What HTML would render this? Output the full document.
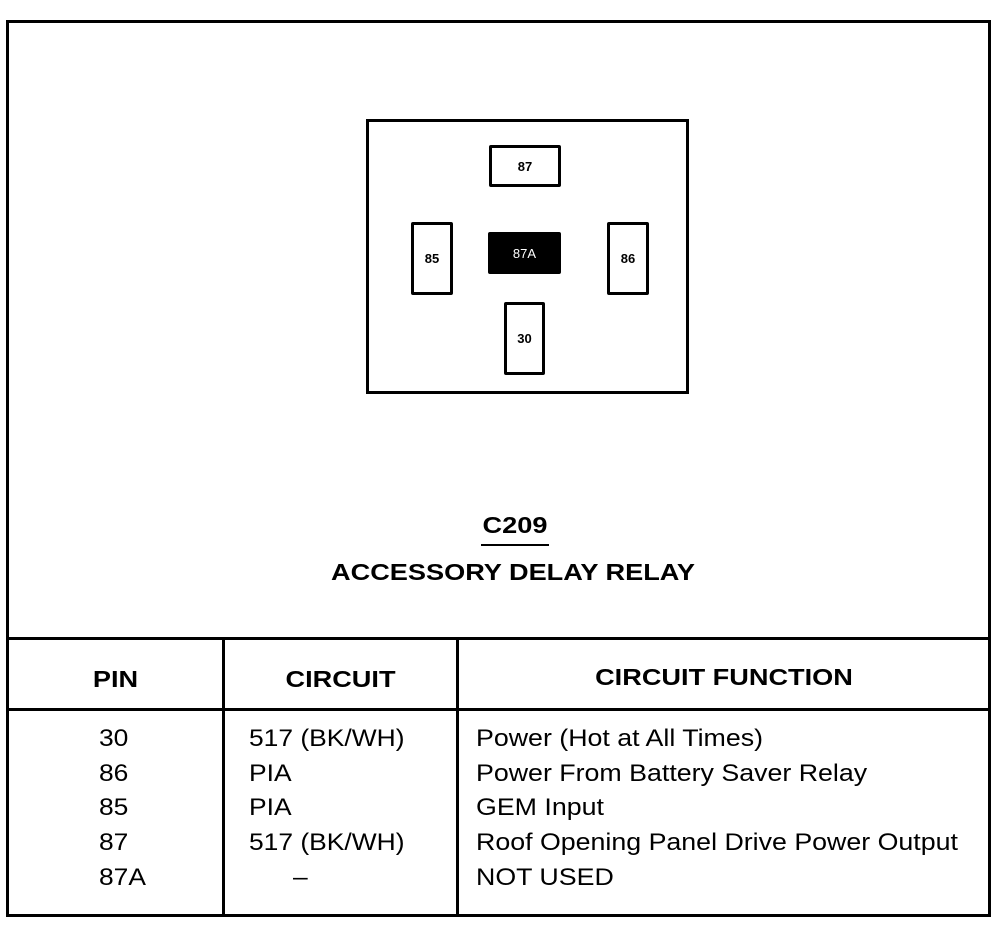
<!DOCTYPE html>
<html><head><meta charset="utf-8"><style>
body{margin:0;width:1000px;height:928px;background:#fff;position:relative;font-family:"Liberation Sans",Arial,sans-serif;color:#000;overflow:hidden}
.a{position:absolute;box-sizing:border-box}
.pin{position:absolute;box-sizing:border-box;border:3px solid #000;background:#fff;display:flex;align-items:center;justify-content:center;font-size:13px;border-radius:2px;font-weight:bold}
.t{position:absolute;font-size:24px;line-height:34.7px;white-space:pre;transform:scaleX(1.1);transform-origin:0 0}
.h{position:absolute;font-size:23px;font-weight:bold;text-align:center;transform:scaleX(1.18)}
</style></head><body>
<div class="a" style="left:6px;top:20px;width:985px;height:897px;border:3px solid #000"></div>
<div class="a" style="left:6px;top:637px;width:985px;height:3px;background:#000"></div>
<div class="a" style="left:6px;top:708px;width:985px;height:3px;background:#000"></div>
<div class="a" style="left:222px;top:637px;width:3px;height:280px;background:#000"></div>
<div class="a" style="left:456px;top:637px;width:3px;height:280px;background:#000"></div>

<div class="a" style="left:366px;top:119px;width:323px;height:275px;border:3px solid #000"></div>
<div class="pin" style="left:489px;top:145px;width:72px;height:42px">87</div>
<div class="pin" style="left:411px;top:222px;width:42px;height:73px">85</div>
<div class="pin" style="left:488px;top:232px;width:73px;height:42px;background:#000;color:#fff;font-weight:normal">87A</div>
<div class="pin" style="left:607px;top:222px;width:42px;height:73px">86</div>
<div class="pin" style="left:504px;top:302px;width:41px;height:73px">30</div>

<div class="h" style="left:0;width:1030px;top:512px">C209</div>
<div class="a" style="left:481px;top:544px;width:68px;height:2px;background:#000"></div>
<div class="h" style="left:0;width:1026px;top:559px">ACCESSORY DELAY RELAY</div>

<div class="h" style="left:9px;width:213px;top:666px">PIN</div>
<div class="h" style="left:225px;width:231px;top:666px">CIRCUIT</div>
<div class="h" style="left:459px;width:530px;top:664px">CIRCUIT FUNCTION</div>

<div class="t" style="left:99px;top:722px">30
86
85
87
87A</div>
<div class="t" style="left:249px;top:722px">517 (BK/WH)
PIA
PIA
517 (BK/WH)
      –</div>
<div class="t" style="left:476px;top:722px;transform:scaleX(1.115)">Power (Hot at All Times)
Power From Battery Saver Relay
GEM Input
Roof Opening Panel Drive Power Output
NOT USED</div>
</body></html>
